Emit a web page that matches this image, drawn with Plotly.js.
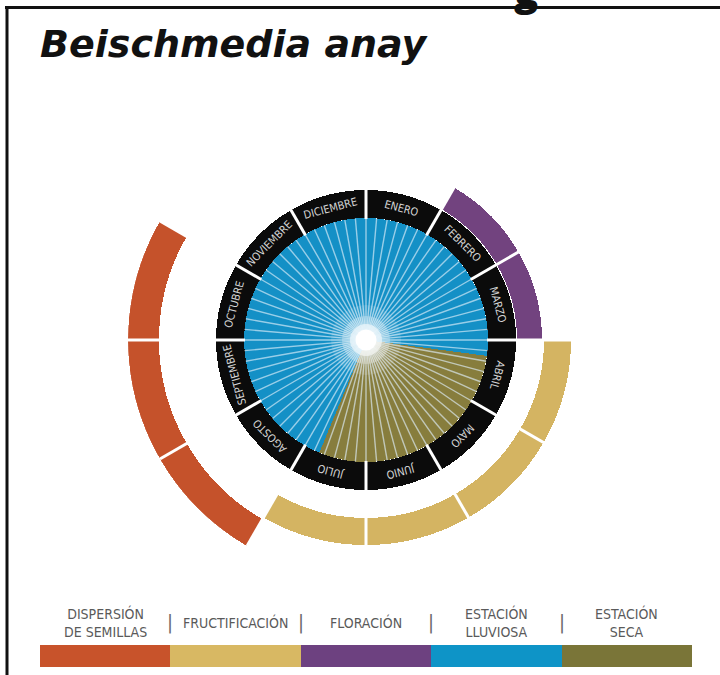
<!DOCTYPE html>
<html>
<head>
<meta charset="utf-8">
<script src="https://cdn.plot.ly/plotly-3.0.1.min.js"></script>
<style>
  html, body { margin: 0; padding: 0; background: #ffffff; }
  #chart { width: 720px; height: 675px; }
</style>
</head>
<body>
<div id="chart"></div>
<script>
// ---------------- DATA ----------------
const months = ['ENERO', 'FEBRERO', 'MARZO', 'ABRIL', 'MAYO', 'JUNIO', 'JULIO',
  'AGOSTO', 'SEPTIEMBRE', 'OCTUBRE', 'NOVIEMBRE', 'DICIEMBRE'];
// month indexes (0 = enero) of each phenological phase
const floracionMonths = [1, 2];
const fructificacionMonths = [3, 4, 5, 6];
const dispersionMonths = [7, 8, 9];
// dry season, in months counted from 1 January (the rest is rainy season)
const estacionSeca = [3.25, 6.75];
// legend
const legendKeys = ['DISPERSIÓN DE SEMILLAS', 'FRUCTIFICACIÓN', 'FLORACIÓN', 'ESTACIÓN LLUVIOSA', 'ESTACIÓN SECA'];
const legendText = ['DISPERSIÓN<br>DE SEMILLAS', 'FRUCTIFICACIÓN', 'FLORACIÓN', 'ESTACIÓN<br>LLUVIOSA', 'ESTACIÓN<br>SECA'];
const legendValues = [1, 1, 1, 1, 1];
const titleText = 'Beischmedia anay';

// ---------------- STYLE ----------------
const W = 720, H = 675;
const CX = 366, CY = 340, RPX = 238;      // polar centre and outer radius (px)
const R_MAX = 238;
const DISC = 122, RING_OUT = 150;
const BANDS = {
  flor: [151, 176],
  fruc: [178, 205],
  disp: [207, 238]
};
const COL = {
  rain: '#1490c6', dry: '#877d3d', ring: '#0b0b0b',
  flor: '#72437f', fruc: '#d4b462', disp: '#c5522b'
};
const legendColors = ['#c8532b', '#d8b863', '#6d4180', '#0e94c7', '#7a7538'];
const MONTH_DEG = 360 / months.length;
const NARROW = 'Liberation Sans Narrow, DejaVu Sans Condensed, Roboto';

const traces = [];

// inner disc: rainy & dry seasons
const dryStart = estacionSeca[0] * MONTH_DEG, dryEnd = estacionSeca[1] * MONTH_DEG;
traces.push({
  type: 'barpolar',
  theta: [(dryStart + dryEnd) / 2, (dryEnd + dryStart + 360) / 2],
  width: [dryEnd - dryStart, 360 - (dryEnd - dryStart)],
  r: [DISC, DISC], base: [0, 0],
  marker: { color: [COL.dry, COL.rain], line: { width: 0 } },
  hoverinfo: 'skip'
});

// spokes
const spR = [], spT = [];
for (let a = 0; a < 360; a += 5) { spR.push(10, DISC, null); spT.push(a, a, null); }
traces.push({
  type: 'scatterpolar', mode: 'lines', r: spR, theta: spT,
  line: { color: 'rgba(225,240,250,0.65)', width: 1.4 }, hoverinfo: 'skip'
});

// centre glow
[[70, 'rgba(255,255,255,0.12)'], [48, 'rgba(255,255,255,0.25)'], [32, 'rgba(255,255,255,0.55)'], [21, '#ffffff']]
  .forEach(([s, c]) => traces.push({
    type: 'scatterpolar', mode: 'markers', r: [0], theta: [0],
    marker: { size: s, color: c, line: { width: 0 } }, hoverinfo: 'skip'
  }));

// month ring
traces.push({
  type: 'barpolar',
  theta: months.map((m, i) => (i + 0.5) * MONTH_DEG),
  width: months.map(() => MONTH_DEG),
  r: months.map(() => RING_OUT - DISC), base: months.map(() => DISC),
  marker: { color: COL.ring, line: { width: 0 } }, hoverinfo: 'skip'
});

// phenology bands
function band(idx, key) {
  const [b0, b1] = BANDS[key];
  return {
    type: 'barpolar',
    theta: idx.map(i => (i + 0.5) * MONTH_DEG),
    width: idx.map(() => MONTH_DEG),
    r: idx.map(() => b1 - b0), base: idx.map(() => b0),
    marker: { color: COL[key], line: { width: 0 } }, hoverinfo: 'skip'
  };
}
traces.push(band(floracionMonths, 'flor'));
traces.push(band(fructificacionMonths, 'fruc'));
traces.push(band(dispersionMonths, 'disp'));

// white month separators
const sepR = [], sepT = [];
months.forEach((m, i) => { sepR.push(DISC - 1, R_MAX + 3, null); sepT.push(i * MONTH_DEG, i * MONTH_DEG, null); });
traces.push({
  type: 'scatterpolar', mode: 'lines', r: sepR, theta: sepT,
  line: { color: '#ffffff', width: 3 }, hoverinfo: 'skip'
});

// legend colour bar
traces.push({
  type: 'bar', x: legendKeys, y: legendValues, xaxis: 'x', yaxis: 'y',
  marker: { color: legendColors, line: { width: 0 } }, hoverinfo: 'skip', width: 1
});

// ---------------- ANNOTATIONS ----------------
function toPaper(r, deg) {
  const a = deg * Math.PI / 180, s = RPX / R_MAX;
  const px = CX + r * s * Math.sin(a), py = CY - r * s * Math.cos(a);
  return { x: px / W, y: 1 - py / H };
}
const annotations = [];
months.forEach((m, i) => {
  const ang = (i + 0.5) * MONTH_DEG;
  const p = toPaper((DISC + RING_OUT) / 2, ang);
  annotations.push({
    xref: 'paper', yref: 'paper', x: p.x, y: p.y, text: m, showarrow: false,
    textangle: ang, xanchor: 'center', yanchor: 'middle',
    font: { family: NARROW, size: 11, color: '#d4d4d4' }
  });
});
// title
annotations.push({
  xref: 'paper', yref: 'paper', x: 38 / W, y: 1 - 44 / H, text: titleText, showarrow: false,
  xanchor: 'left', yanchor: 'middle',
  font: { family: 'DejaVu Sans', size: 38, weight: 700, style: 'italic', color: '#111111' }
});
// cropped glyph at top edge (cut off in the reference as well)
annotations.push({
  xref: 'paper', yref: 'paper', x: 526 / W, y: 1 - 19 / H, text: 'g', showarrow: false,
  xanchor: 'center', yanchor: 'bottom',
  font: { family: 'Open Sans', size: 40, weight: 800, color: '#111111' }
});
// legend labels
const LEG_MID = 622;
legendText.forEach((t, i) => annotations.push({
  xref: 'x', yref: 'paper', x: i, y: 1 - LEG_MID / H, text: t, showarrow: false,
  xanchor: 'center', yanchor: 'middle', align: 'center',
  font: { family: NARROW, size: 14, color: '#5a5a5a' }
}));
for (let i = 0; i < legendKeys.length - 1; i++) annotations.push({
  xref: 'x', yref: 'paper', x: i + 0.5, y: 1 - LEG_MID / H, text: '|', showarrow: false,
  xanchor: 'center', yanchor: 'middle',
  font: { family: NARROW, size: 20, color: '#6a6a6a' }
});

const layout = {
  width: W, height: H,
  margin: { l: 0, r: 0, t: 0, b: 0 },
  paper_bgcolor: '#ffffff', plot_bgcolor: '#ffffff',
  showlegend: false,
  bargap: 0,
  polar: {
    domain: { x: [(CX - RPX) / W, (CX + RPX) / W], y: [1 - (CY + RPX) / H, 1 - (CY - RPX) / H] },
    bgcolor: 'rgba(0,0,0,0)',
    bargap: 0,
    radialaxis: { range: [0, R_MAX], visible: false, showgrid: false },
    angularaxis: { rotation: 90, direction: 'clockwise', visible: false, showgrid: false }
  },
  xaxis: { domain: [40 / W, 692 / W], range: [-0.5, 4.5], visible: false, fixedrange: true },
  yaxis: { domain: [1 - 667 / H, 1 - 645 / H], range: [0, 1], visible: false, fixedrange: true },
  annotations: annotations,
  shapes: [
    { type: 'line', xref: 'paper', yref: 'paper', x0: 5 / W, x1: 1, y0: 1 - 7.5 / H, y1: 1 - 7.5 / H, line: { color: '#111', width: 3 } },
    { type: 'line', xref: 'paper', yref: 'paper', x0: 7 / W, x1: 7 / W, y0: 0, y1: 1 - 6 / H, line: { color: '#111', width: 3 } }
  ]
};

Plotly.newPlot('chart', traces, layout, { displayModeBar: false, staticPlot: true });
</script>
</body>
</html>
